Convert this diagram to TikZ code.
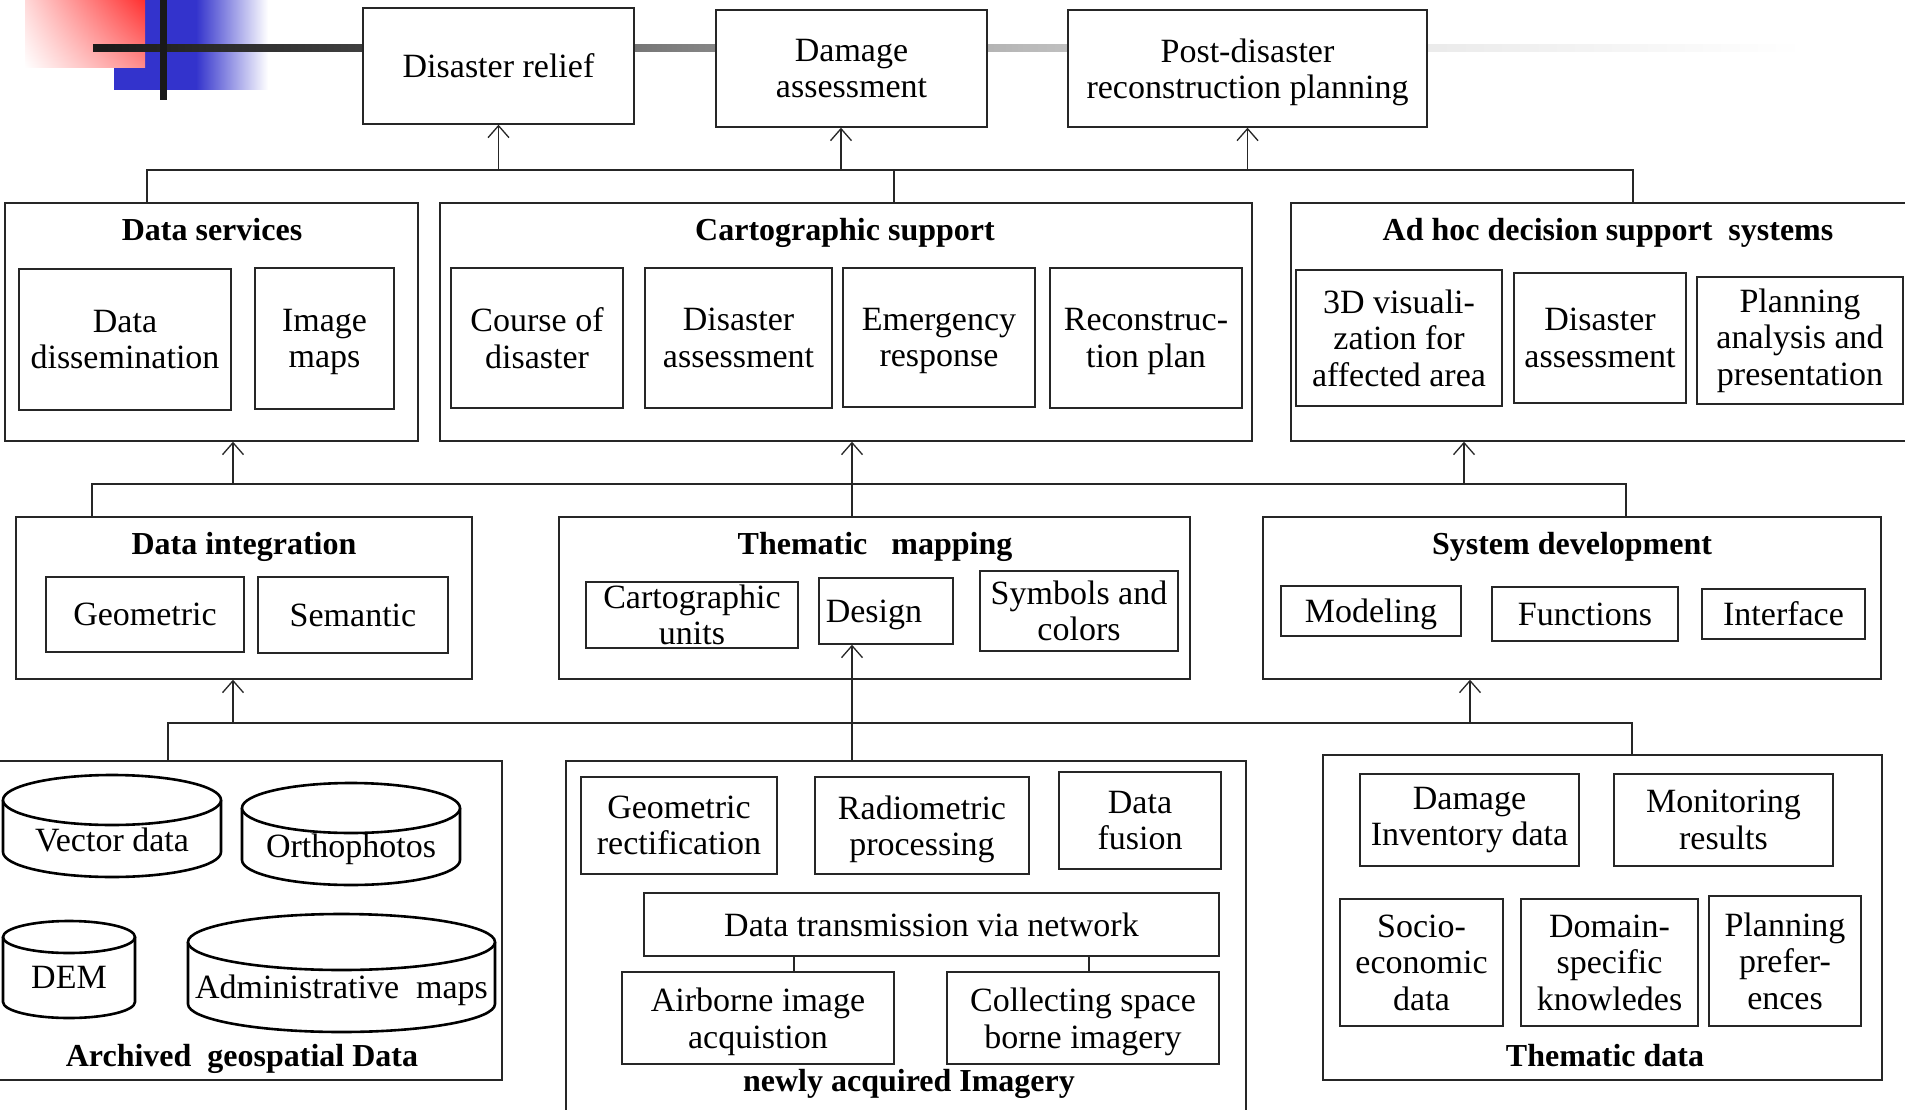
\documentclass[tikz,border=0pt]{standalone}
\usepackage{fontspec}
\setmainfont{Liberation Serif}
\usetikzlibrary{arrows.meta,fit,shadings}

\definecolor{decoblue}{RGB}{51,51,204}
\definecolor{decored}{RGB}{255,48,48}

% fading rule across the header
\pgfdeclarehorizontalshading{barfade}{100bp}{color(0bp)=(black!90); color(25bp)=(black!90);
  color(32.9bp)=(black!75); color(42.2bp)=(black!50); color(52.3bp)=(black!27);
  color(64.1bp)=(black!8); color(75bp)=(white); color(100bp)=(white)}

\tikzset{
  txt/.style={font=\fontsize{34}{36.5}\selectfont, align=center, inner sep=0pt},
  ttl/.style={font=\fontsize{32}{36}\selectfont\bfseries, inner sep=0pt,
              text height=22pt, text depth=0pt},
  box/.style={draw=black!85, line width=1.4pt, fill=white, inner sep=0pt},
  conn/.style={draw=black!85, line width=1.3pt},
  arr/.style={conn, -{Straight Barb[length=12pt,width=21pt]}},
  drum/.style={line width=2.6pt, fill=white},
}

% a line whose descenders do not count when centring
\newcommand\nodp[1]{\raisebox{0pt}[\height][0pt]{#1}}

% framed box between two corners, with its text centred inside
\newcommand\tbox[4]{%
  \node[box, fit={#2 #3}] (#1) {};
  \node[txt] (#1-t) at (#1.center) {#4};}

\begin{document}
\begin{tikzpicture}[x=1pt,y=-1pt]
\useasboundingbox (0,0) rectangle (1905,1110);
\clip (0,0) rectangle (1905,1110);
\fill[white] (0,0) rectangle (1905,1110);

% header ornament
\fill[decoblue] (114,0) rectangle (197,90);
\shade[left color=decoblue, right color=white] (196,0) rectangle (268,90);
\shade[upper right=decored, upper left=red!15!white, lower right=red!45!white, lower left=white]
  (25,0) rectangle (145,68);
\shade[shading=barfade] (93,45) rectangle (1803,52);
\fill[black!90] (160,0) rectangle (167,100);

% top level tasks
\tbox{relief}{(363,8)}{(634,124)}{Disaster relief}
\tbox{damage}{(716,10)}{(987,127)}{Damage\\assessment}
\tbox{post}{(1068,10)}{(1427,127)}{Post-disaster\\\nodp{reconstruction planning}}

% services layer
\node[box, fit={(5,203) (418,441)}] (services) {};
\node[ttl] (servicestitle) at (212,229) {Data services};
\tbox{dissem}{(19,269)}{(231,410)}{Data\\dissemination}
\tbox{imgmaps}{(255,268)}{(394,409)}{Image\\\nodp{maps}}

\node[box, fit={(440,203) (1252,441)}] (carto) {};
\node[ttl] (cartotitle) at (845,229) {Cartographic support};
\tbox{course}{(451,268)}{(623,408)}{Course of\\disaster}
\tbox{dassess}{(645,268)}{(832,408)}{Disaster\\assessment}
\tbox{emerg}{(843,268)}{(1035,407)}{Emergency\\\nodp{response}}
\tbox{recon}{(1050,268)}{(1242,408)}{Reconstruc-\\\nodp{tion plan}}

\node[box, fit={(1291,203) (1912,441)}] (adhoc) {};
\node[ttl] (adhoctitle) at (1608,229) {Ad hoc decision support\ \ systems};
\tbox{vis3d}{(1296,270)}{(1502,406)}{3D visuali-\\zation for\\affected area}
\tbox{adassess}{(1514,273)}{(1686,403)}{Disaster\\assessment}
\tbox{planan}{(1697,277)}{(1903,404)}{Planning\\analysis and\\presentation}

% processing layer
\node[box, fit={(16,517) (472,679)}] (integ) {};
\node[ttl] (integtitle) at (244,543) {Data integration};
\tbox{geom}{(46,577)}{(244,652)}{Geometric}
\tbox{seman}{(258,577)}{(448,653)}{Semantic}

\node[box, fit={(559,517) (1190,679)}] (thematic) {};
\node[ttl] (thematictitle) at (875,543) {Thematic\ \ \ mapping};
\tbox{cunits}{(586,582)}{(798,648)}{Cartographic\\units}
\node[box, fit={(819,578) (953,644)}] (design) {};
\node[txt] (design-t) at (874,611) {\nodp{Design}};
\tbox{symbols}{(980,571)}{(1178,651)}{Symbols and\\colors}

\node[box, fit={(1263,517) (1881,679)}] (sysdev) {};
\node[ttl] (sysdevtitle) at (1572,543) {System development};
\tbox{modeling}{(1281,586)}{(1461,636)}{\nodp{Modeling}}
\tbox{functions}{(1492,587)}{(1678,641)}{Functions}
\tbox{iface}{(1702,589)}{(1865,639)}{Interface}

% data sources
\node[box, fit={(-4,761) (502,1080)}] (archived) {};
\node[ttl] (archivedtitle) at (242,1055) {Archived\ \ geospatial Data};

\draw[drum] (3,800) -- (3,852) arc[start angle=180, end angle=0, x radius=109, y radius=25] -- (221,800);
\draw[drum] (112,800) ellipse[x radius=109, y radius=25];
\node[txt] (vector) at (112,840) {Vector data};

\draw[drum] (242,808) -- (242,860) arc[start angle=180, end angle=0, x radius=109, y radius=25] -- (460,808);
\draw[drum] (351,808) ellipse[x radius=109, y radius=25];
\node[txt] (ortho) at (351,849) {Orthophotos};

\draw[drum] (3,937) -- (3,1002) arc[start angle=180, end angle=0, x radius=66, y radius=16] -- (135,937);
\draw[drum] (69,937) ellipse[x radius=66, y radius=16];
\node[txt] (dem) at (69,977) {DEM};

\draw[drum] (188,942) -- (188,1004) arc[start angle=180, end angle=0, x radius=153.5, y radius=28] -- (495,942);
\draw[drum] (341.5,942) ellipse[x radius=153.5, y radius=28];
\node[txt] (admin) at (341.5,990) {Administrative\ \ maps};

\node[box, fit={(566,761) (1246,1116)}] (newly) {};
\node[ttl] (newlytitle) at (909,1080) {newly acquired Imagery};
\tbox{georect}{(581,777)}{(777,874)}{Geometric\\rectification}
\tbox{radio}{(815,777)}{(1029,874)}{Radiometric\\\nodp{processing}}
\tbox{fusion}{(1059,772)}{(1221,869)}{Data\\fusion}
\tbox{transm}{(644,893)}{(1219,956)}{Data transmission via network}
\tbox{airborne}{(622,972)}{(894,1064)}{Airborne image\\\nodp{acquistion}}
\tbox{space}{(947,972)}{(1219,1064)}{Collecting space\\\nodp{borne imagery}}
\coordinate (tx1) at (794,0);
\coordinate (tx2) at (1089,0);
\draw[conn] (tx1 |- transm.south) -- (tx1 |- airborne.north);
\draw[conn] (tx2 |- transm.south) -- (tx2 |- space.north);

\node[box, fit={(1323,755) (1882,1080)}] (thdata) {};
\node[ttl] (thdatatitle) at (1605,1055) {Thematic data};
\tbox{dmginv}{(1360,774)}{(1579,866)}{Damage\\Inventory data}
\tbox{monit}{(1614,774)}{(1833,866)}{Monitoring\\results}
\tbox{socio}{(1340,899)}{(1503,1026)}{Socio-\\economic\\data}
\tbox{domain}{(1521,899)}{(1698,1026)}{Domain-\\specific\\knowledes}
\tbox{planpref}{(1709,896)}{(1861,1026)}{Planning\\prefer-\\ences}

% upper bus: services -> tasks
\coordinate (tbl) at (147,170);
\coordinate (tbr) at (1633,170);
\coordinate (tbc) at (894,170);
\coordinate (tdm) at (841,170);
\draw[conn] (tbl |- services.north) -- (tbl) -- (tbr) -- (tbr |- adhoc.north);
\draw[conn] (tbc) -- (tbc |- carto.north);
\draw[arr] (relief.south |- tbl) -- (relief.south);
\draw[arr] (tdm) -- (tdm |- damage.south);
\draw[arr] (post.south |- tbl) -- (post.south);

% middle bus: processing -> services
\coordinate (mbl) at (92,484);
\coordinate (mbr) at (1626,484);
\coordinate (mbc) at (852,484);
\coordinate (ma1) at (233,484);
\coordinate (ma3) at (1464,484);
\draw[conn] (mbl |- integ.north) -- (mbl) -- (mbr) -- (mbr |- sysdev.north);
\draw[conn] (mbc) -- (mbc |- thematic.north);
\draw[arr] (ma1) -- (ma1 |- services.south);
\draw[arr] (mbc) -- (mbc |- carto.south);
\draw[arr] (ma3) -- (ma3 |- adhoc.south);

% lower bus: sources -> processing
\coordinate (bbl) at (168,723);
\coordinate (bbr) at (1632,723);
\coordinate (bbc) at (852,723);
\coordinate (ba1) at (233,723);
\coordinate (ba3) at (1470,723);
\draw[conn] (bbl |- archived.north) -- (bbl) -- (bbr) -- (bbr |- thdata.north);
\draw[arr] (bbc |- newly.north) -- (bbc |- design.south);
\draw[arr] (ba1) -- (ba1 |- integ.south);
\draw[arr] (ba3) -- (ba3 |- sysdev.south);
\end{tikzpicture}
\end{document}
